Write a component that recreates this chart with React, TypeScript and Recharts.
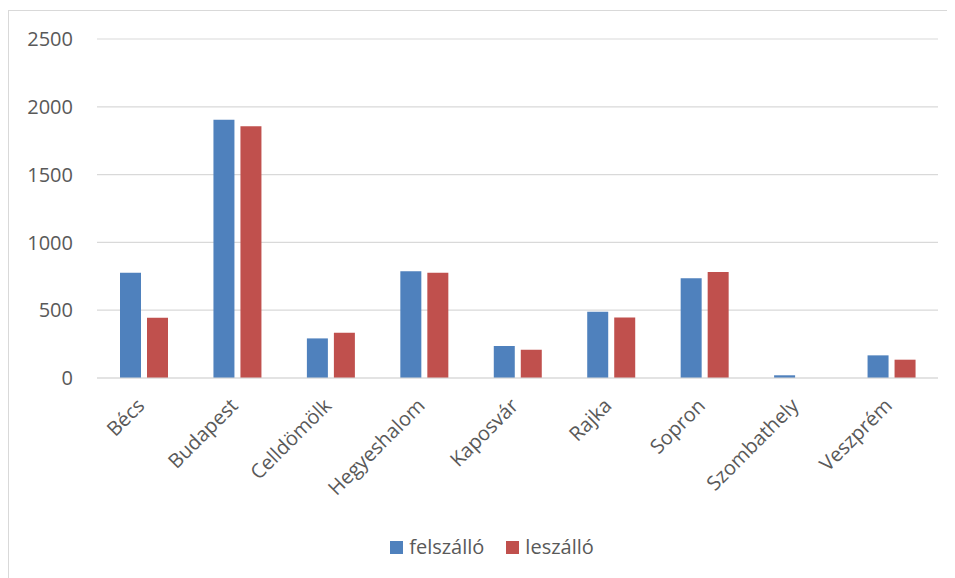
import React from "react";
import { BarChart, Bar, XAxis, YAxis, CartesianGrid } from "recharts";

const stations = [
  "Bécs",
  "Budapest",
  "Celldömölk",
  "Hegyeshalom",
  "Kaposvár",
  "Rajka",
  "Sopron",
  "Szombathely",
  "Veszprém",
];
const boarding = [776, 1905, 292, 788, 236, 489, 736, 20, 167];
const alighting = [445, 1856, 334, 776, 209, 447, 781, 0, 135];
const yTicks = [0, 500, 1000, 1500, 2000, 2500];

const series = [
  { key: "felszallo", name: "felszálló", color: "#4F81BD" },
  { key: "leszallo", name: "leszálló", color: "#C0504D" },
];

const data = stations.map((station, i) => ({
  station,
  felszallo: boarding[i],
  leszallo: alighting[i],
}));

const textColor = "#595959";
const gridColor = "#D9D9D9";
const font = "'Open Sans', sans-serif";

function StationTick({ x, y, payload }: any) {
  return (
    <text
      transform={`translate(${x + 2},${y + 21}) rotate(-45)`}
      textAnchor="end"
      fill={textColor}
      fontSize={20}
      fontFamily={font}
    >
      {payload.value}
    </text>
  );
}

export default function App() {
  return (
    <div style={{ width: 947, height: 570, overflow: "hidden", position: "relative" }}>
      <div
        style={{
          position: "absolute",
          top: 2,
          left: 0,
          width: 968,
          height: 600,
          border: `1px solid ${gridColor}`,
          boxSizing: "border-box",
        }}
      >
        <BarChart
          width={966}
          height={598}
          data={data}
          margin={{ top: 28, right: 37, bottom: 81, left: 8 }}
          barSize={21}
          barGap={6}
        >
          <CartesianGrid stroke={gridColor} strokeWidth={1.2} vertical={false} />
          <XAxis
            dataKey="station"
            height={150}
            interval={0}
            tick={<StationTick />}
            tickLine={false}
            axisLine={{ stroke: gridColor, strokeWidth: 1.2 }}
          />
          <YAxis
            domain={[0, 2500]}
            ticks={yTicks}
            width={80}
            tickLine={false}
            axisLine={false}
            tickMargin={18}
            tick={{ fill: textColor, fontSize: 20, fontFamily: font }}
          />
          {series.map((s) => (
            <Bar key={s.key} dataKey={s.key} name={s.name} fill={s.color} isAnimationActive={false} />
          ))}
        </BarChart>
        <div
          style={{
            position: "absolute",
            top: 526,
            left: 0,
            width: 966,
            display: "flex",
            justifyContent: "center",
            alignItems: "center",
            gap: 22,
            fontFamily: font,
            fontSize: 20,
            color: textColor,
            lineHeight: "20px",
          }}
        >
          {series.map((s) => (
            <div key={s.key} style={{ display: "flex", alignItems: "center", gap: 6 }}>
              <span style={{ width: 13, height: 13, background: s.color, display: "inline-block" }} />
              <span>{s.name}</span>
            </div>
          ))}
        </div>
      </div>
    </div>
  );
}
